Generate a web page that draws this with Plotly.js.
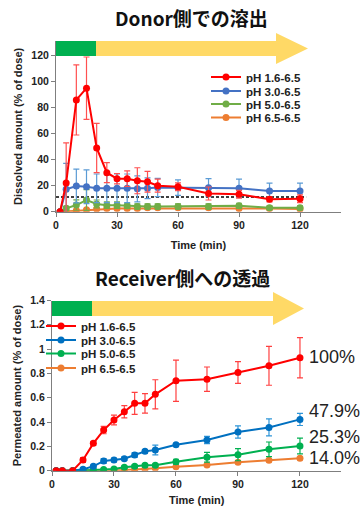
<!DOCTYPE html>
<html><head><meta charset="utf-8">
<script src="https://cdn.plot.ly/plotly-3.0.1.min.js"></script>
<style>html,body{margin:0;padding:0;background:#fff}#chart{width:364px;height:508px}</style>
</head><body><div id="chart"></div>
<script>
// ---- data ----
const times = [2,5,10,15,20,25,30,35,40,45,50,60,75,90,105,120];
const seriesNames = ['pH 1.6-6.5','pH 3.0-6.5','pH 5.0-6.5','pH 6.5-6.5'];

// Donor side dissolution (% of dose)
const donorRed      = [0,22,86,95,49,30,25.4,25.4,23.8,23,20,19.2,14,13.4,9.5,10];
const donorRedErr   = [0,31,27,24,19,7.7,4,6,10,8,5,3,5,3,2,3];
const donorBlue     = [0,17.2,19.8,19.2,18,18,18,18,17.6,18,18.6,18.5,18.5,18,16,16];
const donorBlueErr  = [0,20,13,13,11,11,11,11,10,8,7,6,7,7,6,6];
const donorGreen    = [0,2.6,5.1,9,6,5,5,4.5,4,4,4,4,4,4.5,3,3];
const donorGreenErr = [0,1.5,4,8,3,2.5,2.5,2,2,2,2,2,2,2,1.5,1.5];
const donorOrange   = [0,0.3,1,1.5,2,2.5,2.5,2.5,2.5,3,3,3,3,2.5,2.5,2];
const donorOrangeErr= [0,0.3,0.5,0.8,1,1,1,1,1,1,1,1,1,1,1,1];
const refLineX = [0,123];
const refLineY = [11.3,11.3];

// Receiver side permeation (% of dose)
const recvRed      = [0,0,0,0.088,0.225,0.334,0.417,0.485,0.554,0.554,0.628,0.74,0.753,0.808,0.863,0.929];
const recvRedErr   = [0,0,0,0.02,0.015,0.03,0.04,0.05,0.09,0.08,0.12,0.17,0.1,0.09,0.16,0.165];
const recvBlue     = [0,0,0,0.011,0.036,0.08,0.088,0.099,0.129,0.159,0.17,0.214,0.252,0.318,0.356,0.422];
const recvBlueErr  = [0,0,0,0.005,0.01,0.02,0.015,0.015,0.02,0.015,0.04,0.01,0.03,0.05,0.07,0.05];
const recvGreen    = [0,0,0,0,0.005,0.01,0.015,0.028,0.036,0.044,0.044,0.074,0.11,0.132,0.176,0.203];
const recvGreenErr = [0,0,0,0,0,0.005,0.005,0.01,0.01,0.01,0.01,0.02,0.04,0.05,0.06,0.065];
const recvOrange   = [0,0,0,0,0,0,0.003,0.006,0.01,0.014,0.02,0.033,0.047,0.069,0.085,0.102];
const recvOrangeErr= [0,0,0,0,0,0,0.003,0.004,0.005,0.005,0.006,0.008,0.01,0.01,0.012,0.012];
const endLabels = ['100%','47.9%','25.3%','14.0%'];

const xTicks = [0,30,60,90,120];
const yTicksTop = [0,20,40,60,80,100,120];
const yTicksBottom = [0,0.2,0.4,0.6,0.8,1,1.2,1.4];

// ---- layout helpers ----
const W = 364, H = 508;
const px = v => v / W;
const py = v => 1 - v / H;
const tickFont = {family:'Liberation Sans, Arial, sans-serif', size:10.5, color:'#222', weight:'bold'};
const titleFont = {family:'Liberation Sans, Arial, sans-serif', size:11, color:'#222', weight:'bold'};
const legFont = {family:'Liberation Sans, Arial, sans-serif', size:11.5, color:'#222', weight:'bold'};

const topColors = [
  {line:'#FF0000', err:'#FF5050'},
  {line:'#4472C4', err:'#5B9BD5'},
  {line:'#70AD47', err:'#70AD47'},
  {line:'#ED7D31', err:'#F4B183'}
];
const botColors = [
  {line:'#FF0000', err:'#FF4040'},
  {line:'#0070C0', err:'#2E95D8'},
  {line:'#00B050', err:'#00B050'},
  {line:'#ED7D31', err:'#F4B183'}
];

const topY = [donorRed, donorBlue, donorGreen, donorOrange];
const topE = [donorRedErr, donorBlueErr, donorGreenErr, donorOrangeErr];
const botY = [recvRed, recvBlue, recvGreen, recvOrange];
const botE = [recvRedErr, recvBlueErr, recvGreenErr, recvOrangeErr];

const traces = [];
traces.push({x:refLineX, y:refLineY, xaxis:'x', yaxis:'y', mode:'lines',
  line:{color:'#000', width:1.5, dash:'3px,2px'}, showlegend:false, hoverinfo:'skip'});

// draw in reverse order so red is on top
for (let i = 3; i >= 0; i--) {
  traces.push({
    x: times, y: topY[i], xaxis:'x', yaxis:'y', mode:'lines+markers', name: seriesNames[i],
    line:{color:topColors[i].line, width:2}, marker:{color:topColors[i].line, size:7},
    error_y:{type:'data', array:topE[i], visible:true, color:topColors[i].err, thickness:1.2, width:3},
    legend: i === 0 ? 'legend' : 'legend' + (i+1)
  });
}
for (let i = 3; i >= 0; i--) {
  traces.push({
    x: times, y: botY[i], xaxis:'x2', yaxis:'y2', mode:'lines+markers', name: seriesNames[i],
    line:{color:botColors[i].line, width:2}, marker:{color:botColors[i].line, size:7},
    error_y:{type:'data', array:botE[i], visible:true, color:botColors[i].err, thickness:1.2, width:3},
    legend: 'legend' + (i+5)
  });
}

const topRows = [77, 91, 104, 117.5];
const botRows = [326, 340, 353.5, 368];
const layout = {
  width: W, height: H, margin:{l:0,r:0,t:0,b:0},
  paper_bgcolor:'#fff', plot_bgcolor:'#fff',
  font:{family:'Liberation Sans, Arial, sans-serif', color:'#222'},
  xaxis:{domain:[px(56), px(340.7)], range:[0,140], anchor:'y', tickvals:xTicks,
    showgrid:false, zeroline:false, showline:true, linecolor:'#7f7f7f', linewidth:1,
    ticks:'outside', ticklen:4, tickcolor:'#7f7f7f', tickfont:tickFont,
    title:{text:'Time (min)', font:titleFont, standoff:11}},
  yaxis:{domain:[py(211.7), py(41)], range:[0,131.3], anchor:'x', tickvals:yTicksTop,
    showgrid:false, zeroline:false, showline:true, linecolor:'#7f7f7f', linewidth:1,
    ticks:'outside', ticklen:4, tickcolor:'#7f7f7f', tickfont:tickFont,
    title:{text:'Dissolved amount (% of dose)', font:titleFont, standoff:6}},
  xaxis2:{domain:[px(52), px(341.3)], range:[0,140], anchor:'y2', tickvals:xTicks,
    showgrid:false, zeroline:false, showline:true, linecolor:'#7f7f7f', linewidth:1,
    ticks:'outside', ticklen:4, tickcolor:'#7f7f7f', tickfont:tickFont,
    title:{text:'Time (min)', font:titleFont, standoff:7}},
  yaxis2:{domain:[py(470.7), py(300.5)], range:[0,1.4], anchor:'x2', tickvals:yTicksBottom,
    showgrid:false, zeroline:false, showline:true, linecolor:'#7f7f7f', linewidth:1,
    ticks:'outside', ticklen:4, tickcolor:'#7f7f7f', tickfont:tickFont,
    title:{text:'Permeated amount (% of dose)', font:titleFont, standoff:6}},
  shapes:[
    {type:'rect', xref:'paper', yref:'paper', x0:px(56), x1:px(96), y0:py(56), y1:py(41),
      fillcolor:'#00B050', line:{width:0}, layer:'above'},
    {type:'path', xref:'paper', yref:'paper', layer:'above', fillcolor:'#FFD966', line:{width:0},
      path:`M${px(96)},${py(41)} L${px(276)},${py(41)} L${px(276)},${py(33)} L${px(308)},${py(48.5)} L${px(276)},${py(64)} L${px(276)},${py(56)} L${px(96)},${py(56)} Z`},
    {type:'rect', xref:'paper', yref:'paper', x0:px(52), x1:px(92), y0:py(316), y1:py(301),
      fillcolor:'#00B050', line:{width:0}, layer:'above'},
    {type:'path', xref:'paper', yref:'paper', layer:'above', fillcolor:'#FFD966', line:{width:0},
      path:`M${px(92)},${py(301)} L${px(273)},${py(301)} L${px(273)},${py(292)} L${px(304)},${py(308.5)} L${px(273)},${py(325)} L${px(273)},${py(316)} L${px(92)},${py(316)} Z`}
  ],
  annotations:[
    {xref:'paper', yref:'paper', x:px(191), y:py(17), text:'Donor側での溶出', showarrow:false,
      xanchor:'center', yanchor:'middle', font:{family:'Noto Sans CJK JP', size:19, weight:'bold', color:'#111'}},
    {xref:'paper', yref:'paper', x:px(182), y:py(277), text:'Receiver側への透過', showarrow:false,
      xanchor:'center', yanchor:'middle', font:{family:'Noto Sans CJK JP', size:19, weight:'bold', color:'#111'}}
  ]
};
// end labels on the permeation chart, anchored at final data value
const endY = [0.937, 0.493, 0.274, 0.102];
endLabels.forEach((t, i) => {
  layout.annotations.push({xref:'x2', yref:'y2', x: times[times.length-1], y: endY[i], text: t,
    showarrow:false, xanchor:'left', yanchor:'middle', xshift:7,
    font:{family:'Liberation Sans, Arial, sans-serif', size:18, color:'#222'}});
});
// legends
for (let i = 0; i < 4; i++) {
  const key = i === 0 ? 'legend' : 'legend' + (i+1);
  layout[key] = {x:px(206), y:py(topRows[i]), xanchor:'left', yanchor:'middle',
    bgcolor:'rgba(0,0,0,0)', font:legFont, borderwidth:0, itemwidth:30};
  layout['legend' + (i+5)] = {x:px(41), y:py(botRows[i]), xanchor:'left', yanchor:'middle',
    bgcolor:'rgba(0,0,0,0)', font:legFont, borderwidth:0, itemwidth:30};
}
Plotly.newPlot('chart', traces, layout, {displayModeBar:false, staticPlot:true});
</script></body></html>
